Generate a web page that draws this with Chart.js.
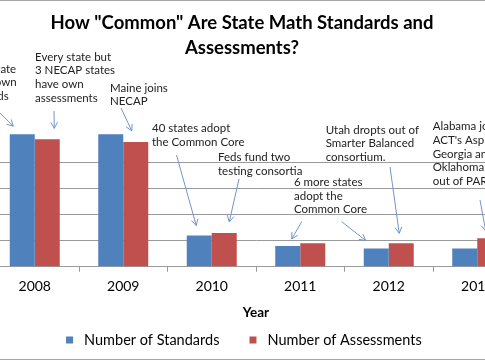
<!DOCTYPE html>
<html>
<head>
<meta charset="utf-8">
<script src="https://cdn.jsdelivr.net/npm/chart.js@4.4.1/dist/chart.umd.min.js"></script>
<style>
  html, body { margin: 0; padding: 0; background: #fff; overflow: hidden; width: 485px; height: 360px; }
  #wrap { position: absolute; top: 0; height: 360px; }
</style>
</head>
<body>
<div id="wrap"><canvas id="c"></canvas></div>
<script>
// data
const YEARS = ['2008', '2009', '2010', '2011', '2012', '2013'];
const STANDARDS = [51, 51, 12, 8, 7, 7];
const ASSESSMENTS = [49, 48, 13, 9, 9, 11];
const SERIES = ['Number of Standards', 'Number of Assessments'];

// callout texts and the bars they point at: [series, year index]
const NOTE_TEXT = [
  ['Every state', 'has its own', 'standards'],
  ['Every state but', '3 NECAP states', 'have own', 'assessments'],
  ['Maine joins', 'NECAP'],
  ['40 states adopt', 'the Common Core'],
  ['Feds fund two', 'testing consortia'],
  ['6 more states', 'adopt the', 'Common Core'],
  ['Utah dropts out of', 'Smarter Balanced', 'consortium.'],
  ["Alabama joins", "ACT's Aspire;", 'Georgia and', 'Oklahoma drop', 'out of PARCC'],
];
const NOTE_TARGETS = [
  [[0, 0]], [[1, 0]], [[1, 1]], [[0, 2]], [[1, 2]], [[0, 3], [0, 4]], [[1, 4]], [[1, 5]],
];

// the page only shows a window of the full chart
const SHIFT = 80, FULL_W = 644;
// callout placement (page px): text left/first-line y, arrow tails, tip offset from bar top
const NOTE_POS = [
  { x: -40, y: 69, tails: [[0, 113]], tips: [[-9, -8]] },
  { x: 35, y: 57, tails: [[54, 111]], tips: [[7, -11]] },
  { x: 110, y: 88, tails: [[121, 108]], tips: [[-4, -11]] },
  { x: 152, y: 128.3, tails: [[176.5, 155]], tips: [[-3, -10]] },
  { x: 218, y: 157.7, tails: [[239, 179]], tips: [[5, -11]] },
  { x: 294, y: 182.3, tails: [[301.7, 221.7], [341.7, 221.7]], tips: [[4, -7], [-10.5, -8]] },
  { x: 325.7, y: 130, tails: [[390, 167]], tips: [[-2, -10]] },
  { x: 432.7, y: 126.7, tails: [[480, 200]], tips: [[-4, -7]] },
];

const FONT = 'Lato, "Noto Sans", sans-serif';
const BLUE = '#4f81bd', RED = '#c0504d', GRID = '#9a9a9a';

document.getElementById('wrap').style.left = -SHIFT + 'px';
document.getElementById('wrap').style.width = FULL_W + 'px';

function arrow(ctx, x1, y1, x2, y2) {
  const a = Math.atan2(y2 - y1, x2 - x1), h = 7, w = 0.5;
  ctx.beginPath();
  ctx.moveTo(x1, y1); ctx.lineTo(x2, y2);
  ctx.moveTo(x2 - h * Math.cos(a - w), y2 - h * Math.sin(a - w));
  ctx.lineTo(x2, y2);
  ctx.lineTo(x2 - h * Math.cos(a + w), y2 - h * Math.sin(a + w));
  ctx.stroke();
}

const callouts = {
  id: 'callouts',
  beforeDraw(chart) {
    const { ctx, width, height } = chart;
    ctx.save();
    ctx.strokeStyle = '#a6a6a6'; ctx.lineWidth = 1;
    ctx.beginPath();
    ctx.moveTo(0, 0.5); ctx.lineTo(width, 0.5);
    ctx.moveTo(0, height - 0.5); ctx.lineTo(width, height - 0.5);
    ctx.stroke();
    ctx.restore();
  },
  afterDatasetsDraw(chart) {
    const ctx = chart.ctx;
    ctx.save();
    ctx.font = '11.5px ' + FONT;
    ctx.fillStyle = '#222';
    ctx.textAlign = 'left';
    ctx.textBaseline = 'middle';
    ctx.strokeStyle = '#6f96cc';
    ctx.lineWidth = 1;
    NOTE_TEXT.forEach((lines, n) => {
      const p = NOTE_POS[n];
      lines.forEach((t, i) => ctx.fillText(t, p.x + SHIFT, p.y + i * 13.6));
      NOTE_TARGETS[n].forEach(([s, k], j) => {
        const bar = chart.getDatasetMeta(s).data[k];
        const [tx, ty] = p.tails[j], [dx, dy] = p.tips[j];
        arrow(ctx, tx + SHIFT, ty, bar.x + dx, bar.y + dy);
      });
    });
    ctx.restore();
  },
};

new Chart(document.getElementById('c'), {
  type: 'bar',
  data: {
    labels: YEARS,
    datasets: [
      { label: SERIES[0], data: STANDARDS, backgroundColor: BLUE },
      { label: SERIES[1], data: ASSESSMENTS, backgroundColor: RED },
    ],
  },
  options: {
    responsive: true,
    maintainAspectRatio: false,
    animation: false,
    layout: { padding: { top: 0, right: 42.5, bottom: 2.75, left: 42.5 } },
    datasets: { bar: { categoryPercentage: 0.565, barPercentage: 1 } },
    plugins: {
      title: {
        display: true,
        text: ['How "Common" Are State Math Standards and', 'Assessments?'],
        color: '#000',
        font: { family: FONT, size: 18.5, weight: 'bold', lineHeight: '25px' },
        padding: { top: 10.5, bottom: 63.25 },
      },
      legend: {
        position: 'bottom',
        labels: {
          color: '#000',
          font: { family: FONT, size: 14.5 },
          usePointStyle: true,
          pointStyle: 'rect',
          boxWidth: 14.5,
          boxHeight: 7,
          padding: 10,
          generateLabels(chart) {
            const items = Chart.defaults.plugins.legend.labels.generateLabels(chart);
            items[0].text += '\u2002\u2002\u2009';
            return items;
          },
        },
      },
      tooltip: { enabled: false },
    },
    scales: {
      x: {
        grid: { offset: true, drawOnChartArea: false, tickLength: 5, color: GRID },
        border: { color: GRID },
        ticks: { color: '#000', font: { family: FONT, size: 14 }, padding: 6 },
        title: {
          display: true, text: 'Year', color: '#000',
          font: { family: FONT, size: 13.5, weight: 'bold' },
          padding: { top: 0, bottom: 2.5 },
        },
        afterFit(scale) { scale.height = 56; },
      },
      y: {
        min: 0, max: 55,
        ticks: { stepSize: 10, color: '#000', font: { family: FONT, size: 12 } },
        grid: { color: GRID },
        border: { display: false },
        afterBuildTicks(scale) { scale.ticks = scale.ticks.filter(t => t.value % 10 === 0); },
        afterFit(scale) { scale.width = 28; },
      },
    },
  },
  plugins: [callouts],
});
</script>
</body>
</html>
